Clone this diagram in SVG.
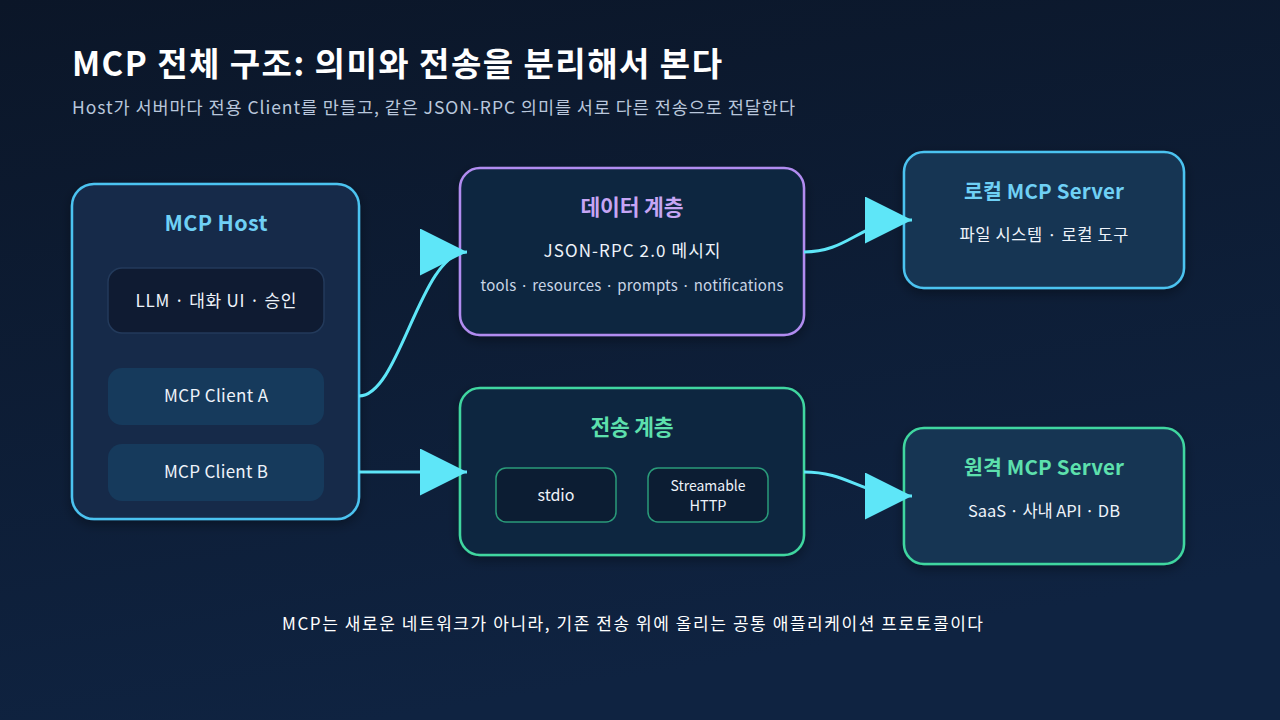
<svg xmlns="http://www.w3.org/2000/svg" width="1280" height="720" viewBox="0 0 1280 720">
<defs>
<linearGradient id="bg" x1="0" y1="0" x2="0.3" y2="1">
<stop offset="0" stop-color="#0b1628"/>
<stop offset="1" stop-color="#0f2341"/>
</linearGradient>
<marker id="arr" viewBox="0 0 10 10" refX="10" refY="5" markerWidth="47" markerHeight="47" markerUnits="userSpaceOnUse" orient="auto">
<path d="M0,0 L10,5 L0,10 z" fill="#5ee6f8"/>
</marker>
<filter id="sh" x="-10%" y="-10%" width="120%" height="130%">
<feDropShadow dx="0" dy="4" stdDeviation="6" flood-color="#000" flood-opacity="0.35"/>
</filter>
</defs>
<style>
text{font-family:"Noto Sans CJK KR","Noto Sans",sans-serif;}
.t{font-size:33px;font-weight:700;fill:#ffffff;}
.st{font-size:17.5px;fill:#b9c7dc;}
.h{font-size:21.5px;font-weight:700;text-anchor:middle;}
.b{font-size:17px;fill:#eef3fa;text-anchor:middle;}
.s{font-size:15px;fill:#c9d5e6;text-anchor:middle;}
.blue{fill:#6fd0f5;}
.purple{fill:#c6a5f4;}
.green{fill:#5de0ad;}
.conn{fill:none;stroke:#5ee6f8;stroke-width:3;marker-end:url(#arr);}
</style>
<rect width="1280" height="720" fill="url(#bg)"/>
<text class="t" x="72" y="76" textLength="650" lengthAdjust="spacing">MCP 전체 구조: 의미와 전송을 분리해서 본다</text>
<text class="st" x="72" y="114" textLength="723" lengthAdjust="spacing">Host가 서버마다 전용 Client를 만들고, 같은 JSON-RPC 의미를 서로 다른 전송으로 전달한다</text>

<g id="host">
<rect x="72" y="184" width="287" height="335" rx="22" fill="#172a4a" stroke="#4cc3f0" stroke-width="2.5" filter="url(#sh)"/>
<text class="h blue" x="216" y="231" textLength="103" lengthAdjust="spacing">MCP Host</text>
<g id="llm">
<rect x="108" y="268" width="216" height="65" rx="14" fill="#0f1b32" stroke="#233a5b" stroke-width="1.5"/>
<text class="b" x="216" y="307" textLength="161" lengthAdjust="spacing">LLM · 대화 UI · 승인</text>
</g>
<g id="client-a">
<rect x="108" y="368" width="216" height="57" rx="14" fill="#163a5c"/>
<text class="b" x="216" y="402" textLength="104" lengthAdjust="spacing">MCP Client A</text>
</g>
<g id="client-b">
<rect x="108" y="444" width="216" height="57" rx="14" fill="#163a5c"/>
<text class="b" x="216" y="478" textLength="104" lengthAdjust="spacing">MCP Client B</text>
</g>
</g>

<g id="data-layer">
<rect x="460" y="168" width="344" height="167" rx="20" fill="#10253f" stroke="#b18cf0" stroke-width="2.5" filter="url(#sh)"/>
<text class="h purple" x="632" y="215" textLength="103" lengthAdjust="spacing">데이터 계층</text>
<text class="b" x="632" y="257" textLength="177" lengthAdjust="spacing">JSON-RPC 2.0 메시지</text>
<text class="s" x="632" y="291" textLength="303" lengthAdjust="spacing">tools · resources · prompts · notifications</text>
</g>

<g id="transport-layer">
<rect x="460" y="388" width="344" height="167" rx="20" fill="#10253f" stroke="#3fd6a0" stroke-width="2.5" filter="url(#sh)"/>
<text class="h green" x="632" y="435" textLength="83" lengthAdjust="spacing">전송 계층</text>
<g id="stdio">
<rect x="496" y="468" width="120" height="54" rx="10" fill="#0c1d33" stroke="#2a9b7a" stroke-width="1.5"/>
<text class="b" x="556" y="501" style="font-size:16px">stdio</text>
</g>
<g id="http">
<rect x="648" y="468" width="120" height="54" rx="10" fill="#0c1d33" stroke="#2a9b7a" stroke-width="1.5"/>
<text class="s" x="708" y="491" style="fill:#eef3fa;font-size:14.5px" textLength="75" lengthAdjust="spacingAndGlyphs">Streamable</text>
<text class="s" x="708" y="511" style="fill:#eef3fa;font-size:14.5px">HTTP</text>
</g>
</g>

<g id="local-server">
<rect x="904" y="152" width="280" height="136" rx="20" fill="#163552" stroke="#4cc3f0" stroke-width="2.5" filter="url(#sh)"/>
<text class="h blue" x="1044" y="199" style="font-size:20.5px" textLength="160" lengthAdjust="spacing">로컬 MCP Server</text>
<text class="b" x="1044" y="241" style="font-size:16.5px" textLength="169" lengthAdjust="spacing">파일 시스템 · 로컬 도구</text>
</g>

<g id="remote-server">
<rect x="904" y="428" width="280" height="136" rx="20" fill="#163552" stroke="#3fd6a0" stroke-width="2.5" filter="url(#sh)"/>
<text class="h green" x="1044" y="475" style="font-size:20.5px" textLength="160" lengthAdjust="spacing">원격 MCP Server</text>
<text class="b" x="1044" y="517" style="font-size:16.5px" textLength="152" lengthAdjust="spacing">SaaS · 사내 API · DB</text>
</g>

<g id="connectors">
<path class="conn" d="M359,396 C400,396 420,252 467,252"/>
<path class="conn" d="M359,472 L467,472"/>
<path class="conn" d="M804,252 C850,252 860,220 912,220"/>
<path class="conn" d="M804,472 C850,472 860,496 912,496"/>
</g>

<text class="b" x="632.5" y="630" style="fill:#ffffff" textLength="701" lengthAdjust="spacing">MCP는 새로운 네트워크가 아니라, 기존 전송 위에 올리는 공통 애플리케이션 프로토콜이다</text>
</svg>
